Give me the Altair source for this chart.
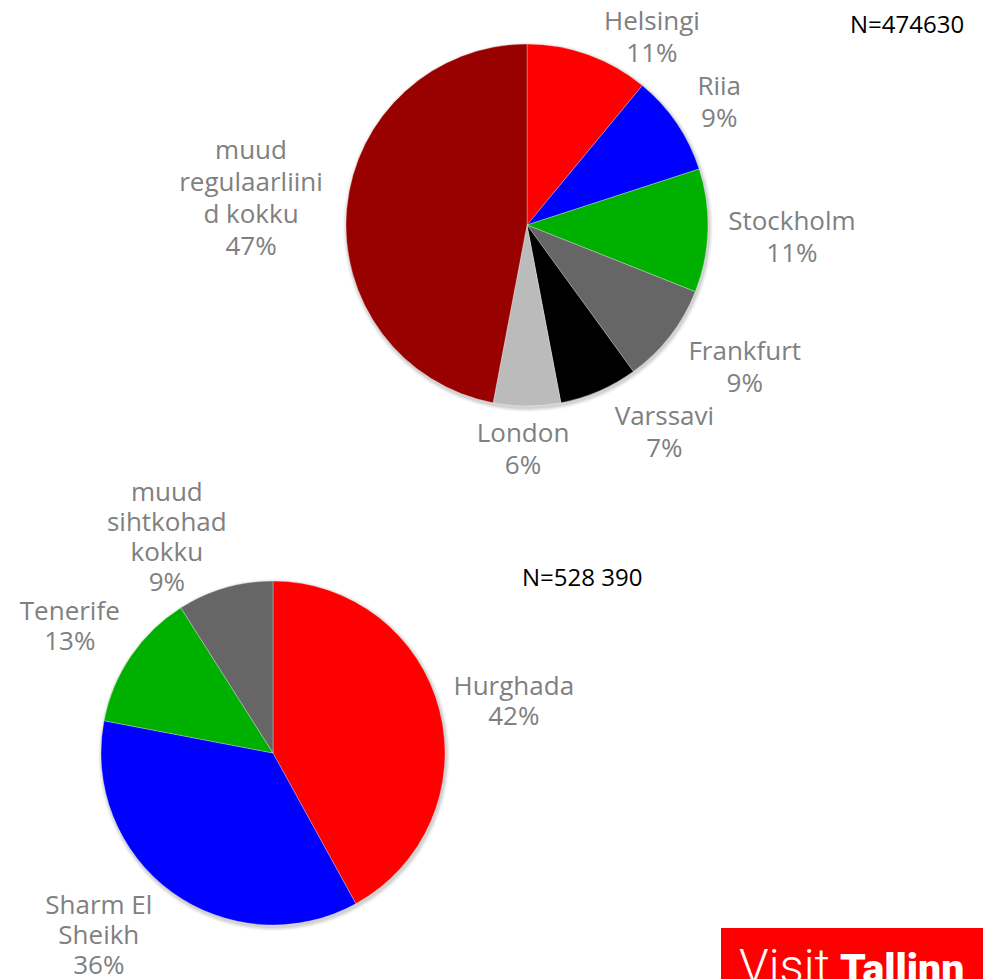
import math
import altair as alt
import pandas as pd

# ---- data ----
top_names = ["Helsingi", "Riia", "Stockholm", "Frankfurt", "Varssavi", "London",
             "muud regulaarliinid kokku"]
top_labels = ["Helsingi", "Riia", "Stockholm", "Frankfurt", "Varssavi", "London",
              "muud\nregulaarliini\nd kokku"]
top_values = [11, 9, 11, 9, 7, 6, 47]
top_total = "N=474630"

bot_names = ["Hurghada", "Sharm El Sheikh", "Tenerife", "muud sihtkohad kokku"]
bot_labels = ["Hurghada", "Sharm El\nSheikh", "Tenerife", "muud\nsihtkohad\nkokku"]
bot_values = [42, 36, 13, 9]
bot_total = "N=528 390"

# ---- styles ----
top_colors = ["#FF0000", "#0000FF", "#00B000", "#666666", "#000000", "#BBBBBB", "#990000"]
bot_colors = ["#FF0000", "#0000FF", "#00B000", "#666666"]
color_scale = alt.Scale(domain=top_names + bot_names, range=top_colors + bot_colors)
theta_scale = alt.Scale(domain=[0, 100], range=[0, 2 * math.pi])

FONT = "Open Sans"
LABEL_COLOR = "#808080"
LABEL_SIZE = 26

# label nudges (px) relative to mid-angle placement (block centres)
top_nudges = {
    "Helsingi": (47, 29), "Riia": (2, 7), "Stockholm": (35, 6), "Frankfurt": (36, 2),
    "Varssavi": (46, -3), "London": (-4, -5), "muud regulaarliinid kokku": (-47, -4),
}
bot_nudges = {
    "Hurghada": (18, 6), "Sharm El Sheikh": (-39, -3), "Tenerife": (-13, 3),
    "muud sihtkohad kokku": (-42, 6),
}


def pie(names, labels, values, cx, cy, r, lr, nudges, line_h):
    cum = []
    s = 0
    for v in values:
        cum.append(s + v / 2)
        s += v
    texts = [f"{l}\n{v}%" for l, v in zip(labels, values)]
    df = pd.DataFrame({
        "name": names,
        "label": texts,
        "value": values,
        "mid": cum,
        "order": list(range(len(names))),
    })
    base = alt.Chart(df).encode(
        theta=alt.Theta("value:Q", stack=True, scale=theta_scale),
        order=alt.Order("order:Q"),
    )
    layers = []
    # soft shadow
    for k, (dr, op) in enumerate([(4, 0.03), (3, 0.04), (2, 0.05), (1, 0.06)]):
        layers.append(base.mark_arc(radius=r + dr, opacity=op, color="#000000").encode(
            x=alt.value(cx + 1), y=alt.value(cy + 2)))
    arcs = base.mark_arc(radius=r, stroke="#ffffff", strokeWidth=0.3).encode(
        color=alt.Color("name:N", scale=color_scale, legend=None),
        x=alt.value(cx), y=alt.value(cy),
    )
    layers.append(arcs)
    for n, txt in zip(names, texts):
        dx, dy = nudges[n]
        nlines = txt.count("\n") + 1
        dy = dy - (nlines - 1) * line_h / 2
        t = alt.Chart(df).transform_filter(alt.datum.name == n).mark_text(
            radius=lr, dx=dx, dy=dy, font=FONT, fontSize=LABEL_SIZE,
            color=LABEL_COLOR, align="center", baseline="middle",
            lineBreak="\n", lineHeight=line_h,
        ).encode(
            theta=alt.Theta("mid:Q", scale=theta_scale),
            text="label:N",
            x=alt.value(cx), y=alt.value(cy),
        )
        layers.append(t)
    return layers


one = pd.DataFrame({"a": [0]})

n_top = alt.Chart(pd.DataFrame({"t": [top_total]})).mark_text(
    font=FONT, fontSize=24, color="#000000", align="left", baseline="middle"
).encode(text="t:N", x=alt.value(842), y=alt.value(18))

n_bot = alt.Chart(pd.DataFrame({"t": [bot_total]})).mark_text(
    font=FONT, fontSize=24, color="#000000", align="left", baseline="middle"
).encode(text="t:N", x=alt.value(514), y=alt.value(571))

logo_rect = alt.Chart(one).mark_rect(color="#FF0000").encode(
    x=alt.value(713), x2=alt.value(977), y=alt.value(920), y2=alt.value(990)
)
logo_visit = alt.Chart(pd.DataFrame({"t": ["Visit"]})).mark_text(
    font="Roboto", fontWeight=300, fontSize=48, color="#FFFFFF", align="left",
    baseline="alphabetic"
).encode(text="t:N", x=alt.value(731), y=alt.value(975))
logo_tallinn = alt.Chart(pd.DataFrame({"t": ["Tallinn"]})).mark_text(
    font="Roboto", fontWeight=900, fontSize=41, color="#FFFFFF", align="left",
    baseline="alphabetic"
).encode(text="t:N", x=alt.value(832), y=alt.value(975))

layers = (
    pie(top_names, top_labels, top_values, 519, 217, 181, 230, top_nudges, 32)
    + pie(bot_names, bot_labels, bot_values, 265, 745, 172, 230, bot_nudges, 30)
    + [n_top, n_bot, logo_rect, logo_visit, logo_tallinn]
)

chart = alt.layer(*layers).properties(
    width=975, height=971,
    autosize=alt.AutoSizeParams(type="none"),
    padding=0,
    background="#FFFFFF",
).configure_view(stroke=None)

chart.save("out.html", embed_options={"renderer": "svg", "actions": False})
